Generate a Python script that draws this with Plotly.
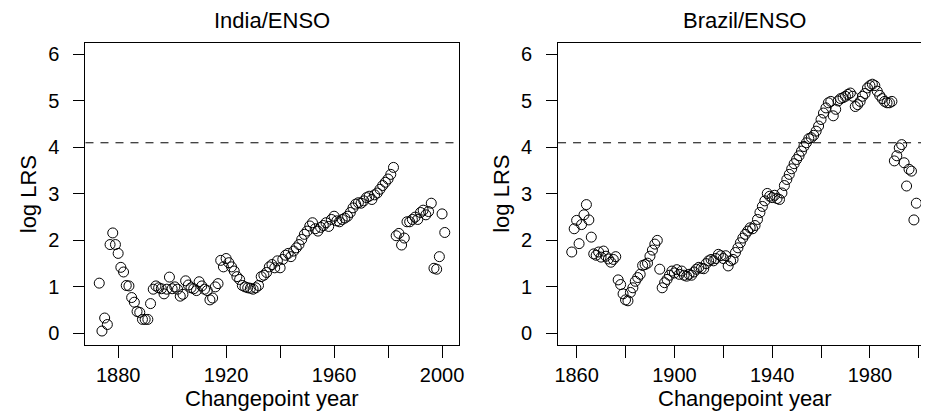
import plotly.graph_objects as go

# ---------------- data ----------------
india_start = 1873
india_lrs = [
    1.08, 0.05, 0.33, 0.19, 1.91, 2.16, 1.91, 1.72, 1.42, 1.32,
    1.03, 1.02, 0.77, 0.67, 0.47, 0.45, 0.30, 0.30, 0.30, 0.64,
    0.95, 1.02, 0.98, 0.96, 0.85, 0.95, 1.21, 0.96, 1.00, 0.95,
    0.80, 0.84, 1.13, 1.04, 0.98, 0.96, 0.92, 1.11, 1.02, 0.95,
    0.92, 0.72, 0.76, 1.00, 1.07,
    # 1918-
    1.57, 1.43, 1.61, 1.52, 1.43, 1.34, 1.22, 1.16, 1.03, 1.00,
    0.98, 0.97, 0.95, 0.98, 1.03, 1.22, 1.25, 1.31, 1.43, 1.48,
    1.41, 1.56, 1.41, 1.59, 1.68, 1.72, 1.65, 1.77, 1.84, 1.91,
    2.02, 2.13, 2.20, 2.31,
    # 1952-
    2.38, 2.25, 2.20, 2.28, 2.32, 2.38, 2.30, 2.45, 2.52, 2.42,
    2.40, 2.45, 2.48, 2.52, 2.60, 2.70, 2.78, 2.81, 2.80, 2.85,
    2.92, 2.95, 2.88, 2.98, 3.02, 3.10, 3.18, 3.25, 3.32, 3.42,
    3.57,
    # 1983-2001
    2.10, 2.15, 1.90, 2.05, 2.40, 2.40, 2.45, 2.50, 2.45, 2.60,
    2.65, 2.55, 2.62, 2.80, 1.40, 1.38, 1.65, 2.57, 2.17,
]
india_years = list(range(india_start, india_start + len(india_lrs)))

brazil_start = 1858
brazil_lrs = [
    1.75, 2.25, 2.43, 1.93, 2.34, 2.55, 2.77, 2.44, 2.07,
    # 1867-
    1.71, 1.68, 1.75, 1.64, 1.77, 1.66, 1.60, 1.53, 1.59, 1.65,
    # 1877-
    1.15, 1.05, 0.85, 0.72, 0.70, 0.88, 0.98, 1.12, 1.20, 1.27,
    1.46, 1.48, 1.51, 1.66, 1.79, 1.92, 2.00,
    # 1894-
    1.38, 0.98, 1.09, 1.16, 1.25, 1.34, 1.30, 1.37, 1.27, 1.34,
    1.25, 1.23, 1.27, 1.25, 1.32, 1.38, 1.42, 1.40, 1.39, 1.50,
    1.56, 1.59, 1.56, 1.61, 1.70, 1.67, 1.61, 1.67, 1.45, 1.56,
    1.59, 1.74, 1.84, 1.95, 2.05, 2.13, 2.20, 2.27, 2.25, 2.32,
    2.45, 2.60, 2.73, 2.85, 3.01, 2.95, 2.92, 2.97, 2.90, 2.88,
    3.02, 3.18, 3.31, 3.42, 3.54, 3.65, 3.74, 3.82, 3.92, 4.02,
    4.10, 4.19, 4.21, 4.26,
    # 1958-
    4.35, 4.46, 4.60, 4.74, 4.85, 4.96, 4.99, 4.68, 4.82, 5.00,
    5.05, 5.07, 5.10, 5.14, 5.17, 5.10, 4.88, 4.92, 4.99, 5.10,
    5.16, 5.28, 5.33, 5.36, 5.33, 5.21, 5.12, 5.05, 4.99, 4.96,
    4.96, 4.99,
    # 1990-1999
    3.71, 3.82, 3.99, 4.06, 3.67, 3.17, 3.53, 3.49, 2.44, 2.80,
]
brazil_years = list(range(brazil_start, brazil_start + len(brazil_lrs)))

threshold = 4.1

india_xticks = [1880, 1900, 1920, 1940, 1960, 1980, 2000]
india_xlabels = ["1880", "", "1920", "", "1960", "", "2000"]
brazil_xticks = [1860, 1880, 1900, 1920, 1940, 1960, 1980, 2000]
brazil_xlabels = ["1860", "", "1900", "", "1940", "", "1980", ""]
y_ticks = [0, 1, 2, 3, 4, 5, 6]
y_labels = ["0", "1", "2", "3", "4", "5", "6"]

panel_titles = ["India/ENSO", "Brazil/ENSO"]
x_title = "Changepoint year"
y_title = "log LRS"

# ---------------- figure ----------------
W, H = 927, 413
FONT = "Liberation Sans, Arial, Helvetica, sans-serif"

marker = dict(symbol="circle-open", size=10, color="black", line=dict(width=1, color="black"))

fig = go.Figure()
fig.add_trace(go.Scatter(x=india_years, y=india_lrs, mode="markers", marker=marker,
                         xaxis="x", yaxis="y", showlegend=False, hoverinfo="x+y"))
fig.add_trace(go.Scatter(x=brazil_years, y=brazil_lrs, mode="markers", marker=marker,
                         xaxis="x2", yaxis="y2", showlegend=False, hoverinfo="x+y"))

ydom = [68.5 / H, 369.7 / H]
common_axis = dict(showline=True, linecolor="black", linewidth=1, ticks="outside",
                   tickcolor="black", tickwidth=1, showgrid=False, zeroline=False,
                   tickfont=dict(family=FONT, size=20, color="black"))
ystand = 10

fig.update_layout(
    width=W, height=H,
    margin=dict(l=0, r=0, t=0, b=0),
    paper_bgcolor="white", plot_bgcolor="white",
    font=dict(family=FONT, color="black"),
    xaxis=dict(domain=[83.3 / W, 460 / W], range=[1867.9, 2006.1], anchor="y", mirror=True,
               tickvals=india_xticks, ticktext=india_xlabels, ticklen=12, **common_axis),
    yaxis=dict(domain=ydom, range=[-0.24, 6.24], anchor="x", mirror=True,
               tickvals=y_ticks, ticktext=y_labels, ticklen=11,
               ticklabelstandoff=ystand, **common_axis),
    xaxis2=dict(domain=[560.5 / W, 1.0], range=[1852.4, 2000.9], anchor="y2", mirror=True,
                tickvals=brazil_xticks, ticktext=brazil_xlabels, ticklen=12, **common_axis),
    yaxis2=dict(domain=ydom, range=[-0.24, 6.24], anchor="x2", mirror=False,
                tickvals=y_ticks, ticktext=y_labels, ticklen=11,
                ticklabelstandoff=ystand, **common_axis),
)

for xr, yr in (("x", "y"), ("x2", "y2")):
    fig.add_shape(type="line", xref=f"{xr} domain", yref=yr, x0=0, x1=1,
                  y0=threshold, y1=threshold,
                  line=dict(color="black", width=1, dash="8px,7px"))

centers = [271.7 / W, 749.2 / W]
ylab_x = [25.5 / W, 502.7 / W]
for i in range(2):
    fig.add_annotation(text=panel_titles[i], xref="paper", yref="paper", x=centers[i],
                       y=(H - 21) / H, xanchor="center", yanchor="middle", showarrow=False,
                       font=dict(family=FONT, size=22, color="black"))
    fig.add_annotation(text=x_title, xref="paper", yref="paper", x=centers[i],
                       y=(H - 398) / H, xanchor="center", yanchor="middle", showarrow=False,
                       font=dict(family=FONT, size=22, color="black"))
    fig.add_annotation(text=y_title, xref="paper", yref="paper", x=ylab_x[i],
                       y=(H - 194) / H, xanchor="center", yanchor="middle", showarrow=False,
                       textangle=-90, font=dict(family=FONT, size=22, color="black"))

# remove the browser's default 8px body margin so the figure sits at the window origin
fig.write_html("out.html",
               config={"displayModeBar": False},
               post_script="document.body.style.margin='0';document.body.style.overflow='hidden';")
